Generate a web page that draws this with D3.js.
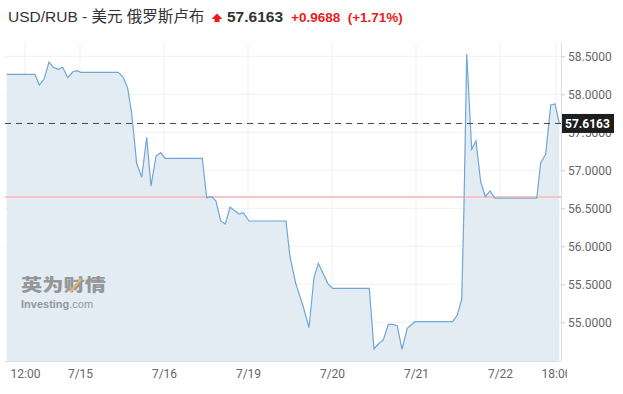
<!DOCTYPE html>
<html><head><meta charset="utf-8">
<script src="https://cdn.jsdelivr.net/npm/d3@7"></script>
<style>body{margin:0;background:#fff}svg{display:block}</style>
</head><body>
<svg id="c" width="623" height="394"></svg>
<script>
// Session-position (in trading-day units: 7/15 = 1, 7/16 = 2, ...)
const times = [0.127,0.464,0.515,0.571,0.631,0.682,0.742,0.794,0.854,0.913,0.961,1.008,1.456,1.515,1.568,1.615,1.675,1.735,1.794,1.845,1.905,1.961,2.012,2.456,2.508,2.568,2.619,2.675,2.730,2.786,2.896,2.944,3.012,3.452,3.500,3.568,3.658,3.726,3.786,3.837,3.949,4.008,4.444,4.500,4.560,4.611,4.670,4.723,4.777,4.833,4.896,4.988,5.437,5.492,5.544,5.571,5.604,5.663,5.714,5.770,5.825,5.881,5.940,6.437,6.485,6.544,6.604,6.655,6.706];
const values = [58.263,58.263,58.122,58.197,58.425,58.355,58.329,58.355,58.218,58.293,58.311,58.289,58.289,58.224,58.079,57.750,57.092,56.908,57.434,56.793,57.188,57.232,57.158,57.158,56.639,56.653,56.596,56.333,56.293,56.513,56.425,56.442,56.333,56.333,55.863,55.513,55.205,54.929,55.592,55.776,55.513,55.447,55.447,54.649,54.724,54.767,54.974,54.974,54.955,54.645,54.921,55.008,55.008,55.096,55.303,56.521,58.530,57.276,57.386,56.850,56.653,56.728,56.632,56.632,57.100,57.211,57.859,57.872,57.6163];
const xTickPos = [0.345,1,2,3,4,5,6,6.667];
const xTickLabels = ["12:00","7/15","7/16","7/19","7/20","7/21","7/22","18:00"];
const yTicks = [55,55.5,56,56.5,57,57.5,58,58.5];
const lastPrice = 57.6163, change = 0.9688, changePct = 1.71, prevClose = 56.6475;
const pairLabel = "USD/RUB - 美元 俄罗斯卢布";

const svg = d3.select("#c");
const L = 5, R = 561, T = 42, B = 361;
const x = d3.scaleLinear().domain([1,6]).range([80,500]);
const y = d3.scaleLinear().domain([55,58.5]).range([322.3,56.3]);

// grid
const g = svg.append("g");
g.selectAll("line.h").data(yTicks).join("line")
  .attr("x1",L).attr("x2",R).attr("y1",d=>y(d)).attr("y2",d=>y(d))
  .attr("stroke","#eef1f5").attr("stroke-width",1);
g.selectAll("line.v").data(xTickPos).join("line")
  .attr("x1",d=>x(d)).attr("x2",d=>x(d)).attr("y1",T).attr("y2",B)
  .attr("stroke","#eef1f5").attr("stroke-width",1);

const data = times.map((t,i)=>[t,values[i]]);
svg.append("path").datum(data)
  .attr("d", d3.area().x(d=>x(d[0])).y0(B).y1(d=>y(d[1])))
  .attr("fill","#e3ecf3");

// watermark
const wm = svg.append("g").attr("opacity",0.75);
wm.append("text").attr("x",21).attr("y",291).attr("font-family","'Noto Sans CJK SC'")
  .attr("font-weight",900).attr("font-size",17).attr("fill","#7a7a7a")
  .attr("textLength",85).attr("lengthAdjust","spacingAndGlyphs").text("英为财情");
wm.append("line").attr("x1",70).attr("y1",292).attr("x2",81).attr("y2",279)
  .attr("stroke","#f0a030").attr("stroke-width",2.5);
const wt = wm.append("text").attr("x",21).attr("y",308).attr("font-family","'Liberation Sans',Arial")
  .attr("font-size",11).attr("fill","#7a7a7a");
wt.append("tspan").attr("font-weight","bold").text("Investing");
wt.append("tspan").text(".com");

// prev close line
svg.append("line").attr("x1",L).attr("x2",R).attr("y1",y(prevClose)).attr("y2",y(prevClose))
  .attr("stroke","#f5c4c4").attr("stroke-width",2);

svg.append("path").datum(data)
  .attr("d", d3.line().x(d=>x(d[0])).y(d=>y(d[1])))
  .attr("fill","none").attr("stroke","#6fa6d6").attr("stroke-width",1.2);

// last price dashed line
svg.append("line").attr("x1",L).attr("x2",R).attr("y1",y(lastPrice)).attr("y2",y(lastPrice))
  .attr("stroke","#444").attr("stroke-width",1).attr("stroke-dasharray","6,5");

// right axis
const ya = svg.append("g").attr("transform",`translate(${R},0)`)
  .call(d3.axisRight(y).tickValues(yTicks).tickFormat(d3.format(".4f")).tickSize(4).tickPadding(3));
ya.select(".domain").attr("d",`M0.5,${T}V${B}`).attr("stroke","#d9dfe7");
ya.selectAll(".tick line").attr("stroke","#c8ced6");
ya.selectAll("text").attr("font-family","Roboto").attr("font-size",12).attr("fill","#666");

// bottom axis
svg.append("defs").append("clipPath").attr("id","xc").append("rect")
  .attr("x",0).attr("y",-10).attr("width",567).attr("height",44);
const xa = svg.append("g").attr("transform",`translate(0,${B})`).attr("clip-path","url(#xc)")
  .call(d3.axisBottom(x).tickValues(xTickPos).tickFormat((d,i)=>xTickLabels[i]).tickSize(0).tickPadding(8));
xa.select(".domain").attr("d",`M${L},0.5H${R}`).attr("stroke","#d9dfe7");
xa.selectAll("text").attr("font-family","Roboto").attr("font-size",12).attr("fill","#666");

// last price label
const ly = y(lastPrice);
svg.append("rect").attr("x",R+1).attr("y",ly-9.5).attr("width",52).attr("height",19).attr("fill","#1e1e1e");
svg.append("text").attr("x",R+4).attr("y",ly+4.5).attr("font-family","Roboto").attr("font-weight","bold")
  .attr("font-size",12).attr("fill","#fff").text(lastPrice.toFixed(4));

// header
const h = svg.append("text").attr("x",8).attr("y",22).attr("font-family","'Liberation Sans',Arial,'Noto Sans CJK SC'")
  .attr("font-size",15.5).attr("fill","#333");
h.text(pairLabel);
svg.append("path").attr("d","M217,13.5 L222.5,19 L219.5,19 L219.5,22 L214.5,22 L214.5,19 L211.5,19 Z").attr("fill","#e81d1d");
svg.append("text").attr("x",227).attr("y",22).attr("font-family","'Liberation Sans',Arial")
  .attr("font-weight","bold").attr("font-size",15.5).attr("fill","#333").text(lastPrice.toFixed(4));
svg.append("text").attr("x",291).attr("y",22).attr("font-family","'Liberation Sans',Arial")
  .attr("font-weight","bold").attr("font-size",13.5).attr("fill","#e81d1d")
  .attr("xml:space","preserve")
  .text(`+${change.toFixed(4)}  (+${changePct.toFixed(2)}%)`);
</script>
</body></html>
